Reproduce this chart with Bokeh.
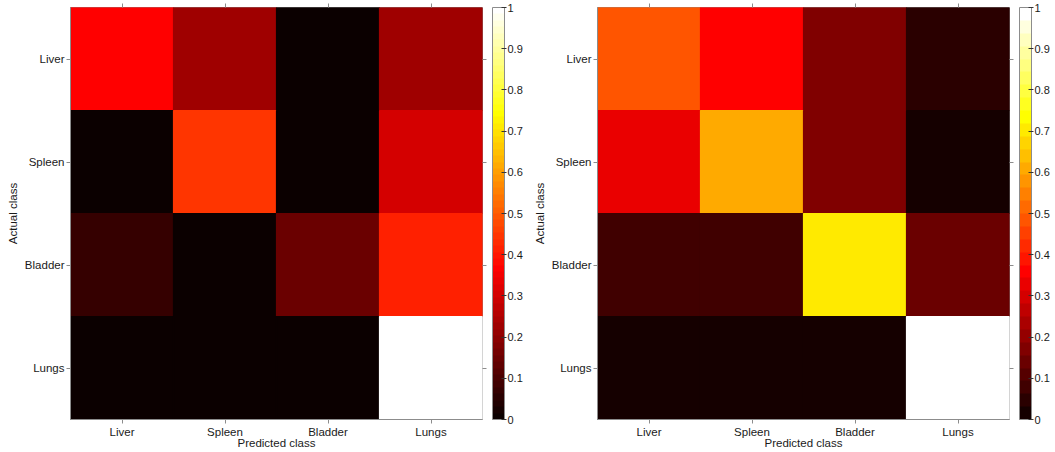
from bokeh.plotting import figure
from bokeh.models import (LinearColorMapper, ColorBar, FixedTicker, CategoricalAxis,
                          ColumnDataSource, FactorRange, NumeralTickFormatter,
                          CustomLabelingPolicy)
from bokeh.layouts import row
from bokeh.transform import transform
from bokeh.embed import file_html
from bokeh.resources import INLINE

# ---- data ----
classes = ["Liver", "Spleen", "Bladder", "Lungs"]
# rows: actual class, columns: predicted class
left_values = [
    [0.37, 0.23, 0.01, 0.22],
    [0.01, 0.445, 0.01, 0.305],
    [0.07, 0.01, 0.148, 0.414],
    [0.01, 0.01, 0.01, 1.0],
]
right_values = [
    [0.48, 0.36, 0.17, 0.047],
    [0.33, 0.61, 0.17, 0.016],
    [0.08, 0.08, 0.70, 0.14],
    [0.016, 0.016, 0.016, 1.0],
]
cbar_ticks = [0, 0.1, 0.2, 0.3, 0.4, 0.5, 0.6, 0.7, 0.8, 0.9, 1]
x_title = "Predicted class"
y_title = "Actual class"

FONT = "Liberation Sans"
TXT = "#1a1a1a"
GRAY = "#8c8c8c"


def hot(n):
    n1 = int(3 * n / 8)
    out = []
    for i in range(n):
        r = min((i + 1) / n1, 1.0)
        g = min(max((i + 1 - n1) / n1, 0.0), 1.0)
        b = min(max((i + 1 - 2 * n1) / (n - 2 * n1), 0.0), 1.0)
        out.append("#%02x%02x%02x" % (round(r * 255), round(g * 255), round(b * 255)))
    return out


def tick_only_axis():
    return CategoricalAxis(major_label_text_font_size="0px", major_label_standoff=0,
                           major_label_policy=CustomLabelingPolicy(code="return new Set()"),
                           axis_line_color=None, major_tick_out=4, major_tick_in=0,
                           major_tick_line_color=GRAY)


def panel(values, ncolors, border_right):
    pred, act, v = [], [], []
    for i, a in enumerate(classes):
        for j, pc in enumerate(classes):
            pred.append(pc)
            act.append(a)
            v.append(values[i][j])
    src = ColumnDataSource(dict(pred=pred, act=act, v=v))
    mapper = LinearColorMapper(palette=hot(ncolors), low=0, high=1)

    p = figure(x_range=FactorRange(*classes), y_range=FactorRange(*classes[::-1]),
               frame_width=412, frame_height=412,
               min_border_left=70, min_border_right=border_right, min_border_top=7,
               min_border_bottom=33,
               output_backend="svg", toolbar_location=None,
               x_axis_label=x_title, y_axis_label=y_title)
    p.rect(x="pred", y="act", width=1, height=1, source=src,
           fill_color=transform("v", mapper), line_color=transform("v", mapper),
           line_width=1.2)

    p.xgrid.grid_line_color = None
    p.ygrid.grid_line_color = None
    p.outline_line_color = GRAY
    p.background_fill_color = "white"
    p.border_fill_color = "white"

    for ax in p.axis:
        ax.major_label_text_font = FONT
        ax.major_label_text_font_size = "11.5px"
        ax.major_label_text_color = TXT
        ax.axis_label_text_font = FONT
        ax.axis_label_text_font_size = "11.5px"
        ax.axis_label_text_font_style = "normal"
        ax.axis_label_text_color = TXT
        ax.major_tick_out = 4
        ax.major_tick_in = 0
        ax.major_tick_line_color = GRAY
        ax.axis_line_color = GRAY
    p.xaxis.major_label_standoff = 2
    p.xaxis.axis_label_standoff = -4
    p.yaxis.major_label_standoff = 2
    p.yaxis.axis_label_standoff = 3

    p.add_layout(tick_only_axis(), "above")
    p.add_layout(tick_only_axis(), "right")

    cb = ColorBar(color_mapper=mapper, ticker=FixedTicker(ticks=cbar_ticks),
                  formatter=NumeralTickFormatter(format="0.[0]"),
                  width=12, height=412, margin=0, padding=0,
                  bar_line_color=GRAY, border_line_color=None,
                  major_tick_line_color="#333333", major_tick_in=3, major_tick_out=2,
                  minor_tick_line_color=None,
                  major_label_text_font=FONT, major_label_text_font_size="11px",
                  major_label_text_color=TXT, label_standoff=1,
                  location=(6, 0))
    p.add_layout(cb, "right")
    return p


p1 = panel(left_values, 64, 45)
p2 = panel(right_values, 32, 44)
layout = row(p1, p2)
open("out.html", "w").write(file_html(layout, INLINE))
